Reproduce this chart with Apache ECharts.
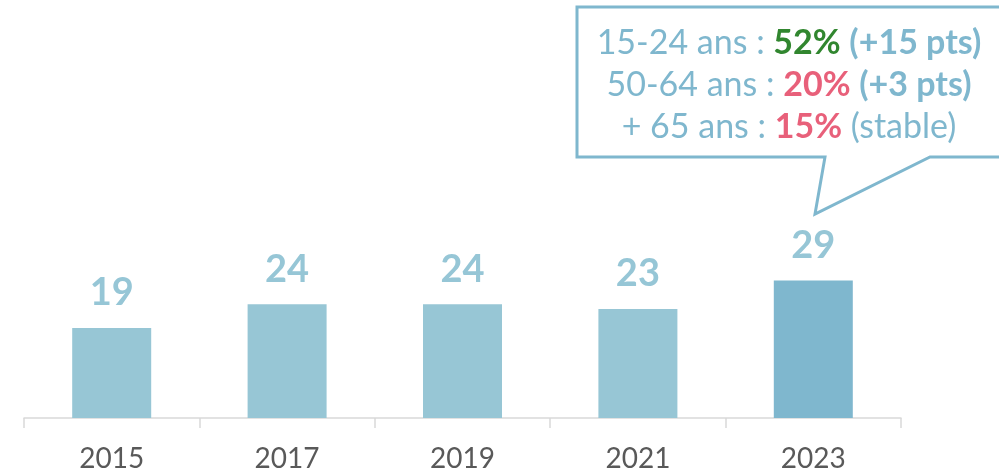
<!DOCTYPE html>
<html>
<head>
<meta charset="utf-8">
<script src="https://cdn.jsdelivr.net/npm/echarts@6/dist/echarts.min.js"></script>
<style>
  html, body { margin: 0; padding: 0; background: #fff; }
  #chart { width: 999px; height: 473px; }
</style>
</head>
<body>
<div id="chart"></div>
<script>
const years = ['2015', '2017', '2019', '2021', '2023'];
const values = [19, 24, 24, 23, 29];
const barColors = ['#97C6D5', '#97C6D5', '#97C6D5', '#97C6D5', '#7FB7CE'];

const chart = echarts.init(document.getElementById('chart'));

const font = 'Lato, "Open Sans", sans-serif';
const blue = '#7FB7CE';

const option = {
    animation: false,
    grid: {
        left: 24,
        right: 98,
        top: 39,
        bottom: 54
    },
    xAxis: {
        type: 'category',
        data: years,
        axisLine: { lineStyle: { color: '#D9D9D9', width: 1.5 } },
        axisTick: { show: true, length: 10, lineStyle: { color: '#D9D9D9', width: 1.5 } },
        axisLabel: {
            color: '#595959',
            fontSize: 28,
            fontFamily: font,
            margin: 27
        }
    },
    yAxis: {
        type: 'value',
        min: 0,
        max: 80,
        show: false
    },
    series: [{
        type: 'bar',
        barWidth: 79,
        data: values.map((v, i) => ({ value: v, itemStyle: { color: barColors[i] } })),
        label: {
            show: true,
            position: 'top',
            distance: 16,
            color: '#96C6D6',
            fontSize: 38,
            fontWeight: 'bold',
            fontFamily: font
        }
    }],
    graphic: [
        {
            type: 'polygon',
            shape: {
                points: [[577, 7], [1010, 7], [1010, 157], [930, 157], [815, 214], [825, 157], [577, 157]]
            },
            style: { fill: '#fff', stroke: blue, lineWidth: 3 }
        },
        {
            type: 'text',
            x: 789,
            y: 85,
            style: {
                text: '15-24 ans : {g|52%} {b|(+15 pts)}\n50-64 ans : {r|20%} {b|(+3 pts)}\n+ 65 ans : {r|15%} (stable)',
                align: 'center',
                verticalAlign: 'middle',
                fill: blue,
                fontSize: 34,
                fontFamily: font,
                lineHeight: 42,
                rich: {
                    g: { fill: '#31862F', fontWeight: 'bold', fontSize: 34, fontFamily: font, lineHeight: 42 },
                    r: { fill: '#E8607A', fontWeight: 'bold', fontSize: 34, fontFamily: font, lineHeight: 42 },
                    b: { fill: blue, fontWeight: 'bold', fontSize: 34, fontFamily: font, lineHeight: 42 }
                }
            }
        }
    ]
};

chart.setOption(option);
</script>
</body>
</html>
